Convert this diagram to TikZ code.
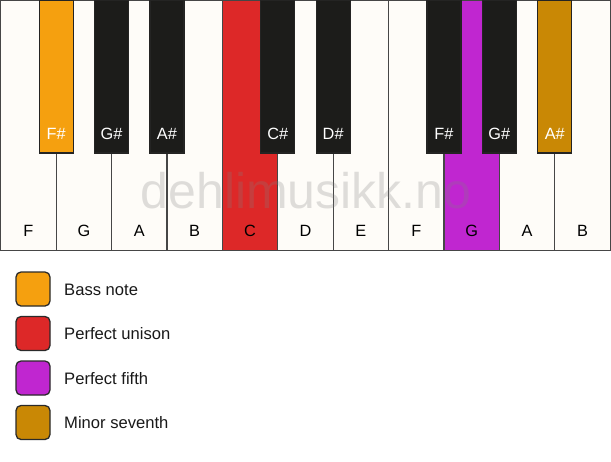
\documentclass[tikz,border=0pt]{standalone}
\usepackage{fontspec}
\setmainfont{Liberation Sans}
\definecolor{keywhite}{RGB}{254,252,248}
\definecolor{keyblack}{RGB}{28,28,26}
\definecolor{keyline}{RGB}{70,70,70}
\definecolor{bassc}{RGB}{245,160,15}
\definecolor{unisonc}{RGB}{221,40,40}
\definecolor{fifthc}{RGB}{192,38,208}
\definecolor{seventhc}{RGB}{201,136,5}
\tikzset{
  whitekey/.style={draw=keyline, line width=1.3pt, fill=keywhite, rectangle, anchor=north west,
    minimum width=55.4pt, minimum height=250pt, inner sep=0pt, outer sep=0pt},
  blackkey/.style={draw=keyblack!80!keyline, line width=1.3pt, fill=keyblack, rectangle, anchor=north,
    minimum width=34pt, minimum height=153pt, inner sep=0pt, outer sep=0pt},
  keylabel/.style={font=\fontsize{16.3}{19}\selectfont, anchor=base, inner sep=0pt},
  legbox/.style={draw=keyline!60!black, line width=1.3pt, rounded corners=5pt, minimum width=34pt,
    minimum height=34pt, inner sep=0pt},
  legtext/.style={font=\fontsize{16.6}{19}\selectfont, anchor=base west, inner sep=0pt, text=black!90}
}
\begin{document}
\begin{tikzpicture}[x=1pt,y=-1pt]
\useasboundingbox (0,0) rectangle (611,461);
\fill[white] (0,0) rectangle (611,461);
% white keys
\foreach \i/\n/\c in {0/F/keywhite,1/G/keywhite,2/A/keywhite,3/B/keywhite,4/C/unisonc,5/D/keywhite,6/E/keywhite,7/F/keywhite,8/G/fifthc,9/A/keywhite,10/B/keywhite}{
  \node[whitekey, fill=\c] (w\i) at ({0.75+55.4*\i},0.75) {};
  \node[keylabel] (wl\i) at ({0.75+55.4*\i+27.7},236) {\n};
}
% watermark
\node[anchor=base, inner sep=0pt, text=gray, text opacity=0.25, font=\fontsize{50}{60}\selectfont] (wm) at (306,208) {dehlimusikk.no};
% black keys
\foreach \i/\n/\c in {1/F\#/bassc,2/G\#/keyblack,3/A\#/keyblack,5/C\#/keyblack,6/D\#/keyblack,8/F\#/keyblack,9/G\#/keyblack,10/A\#/seventhc}{
  \node[blackkey, fill=\c] (b\i) at ({0.75+55.4*\i},0) {};
  \node[keylabel, text=white] (bl\i) at ({0.75+55.4*\i},139) {\n};
}
% legend
\foreach \k/\c/\t/\y in {1/bassc/Bass note/289,2/unisonc/Perfect unison/333.5,3/fifthc/Perfect fifth/378,4/seventhc/Minor seventh/422.5}{
  \node[legbox, fill=\c] (lb\k) at (33,\y) {};
  \node[legtext] (lt\k) at (64,\y+6) {\t};
}
\end{tikzpicture}
\end{document}
